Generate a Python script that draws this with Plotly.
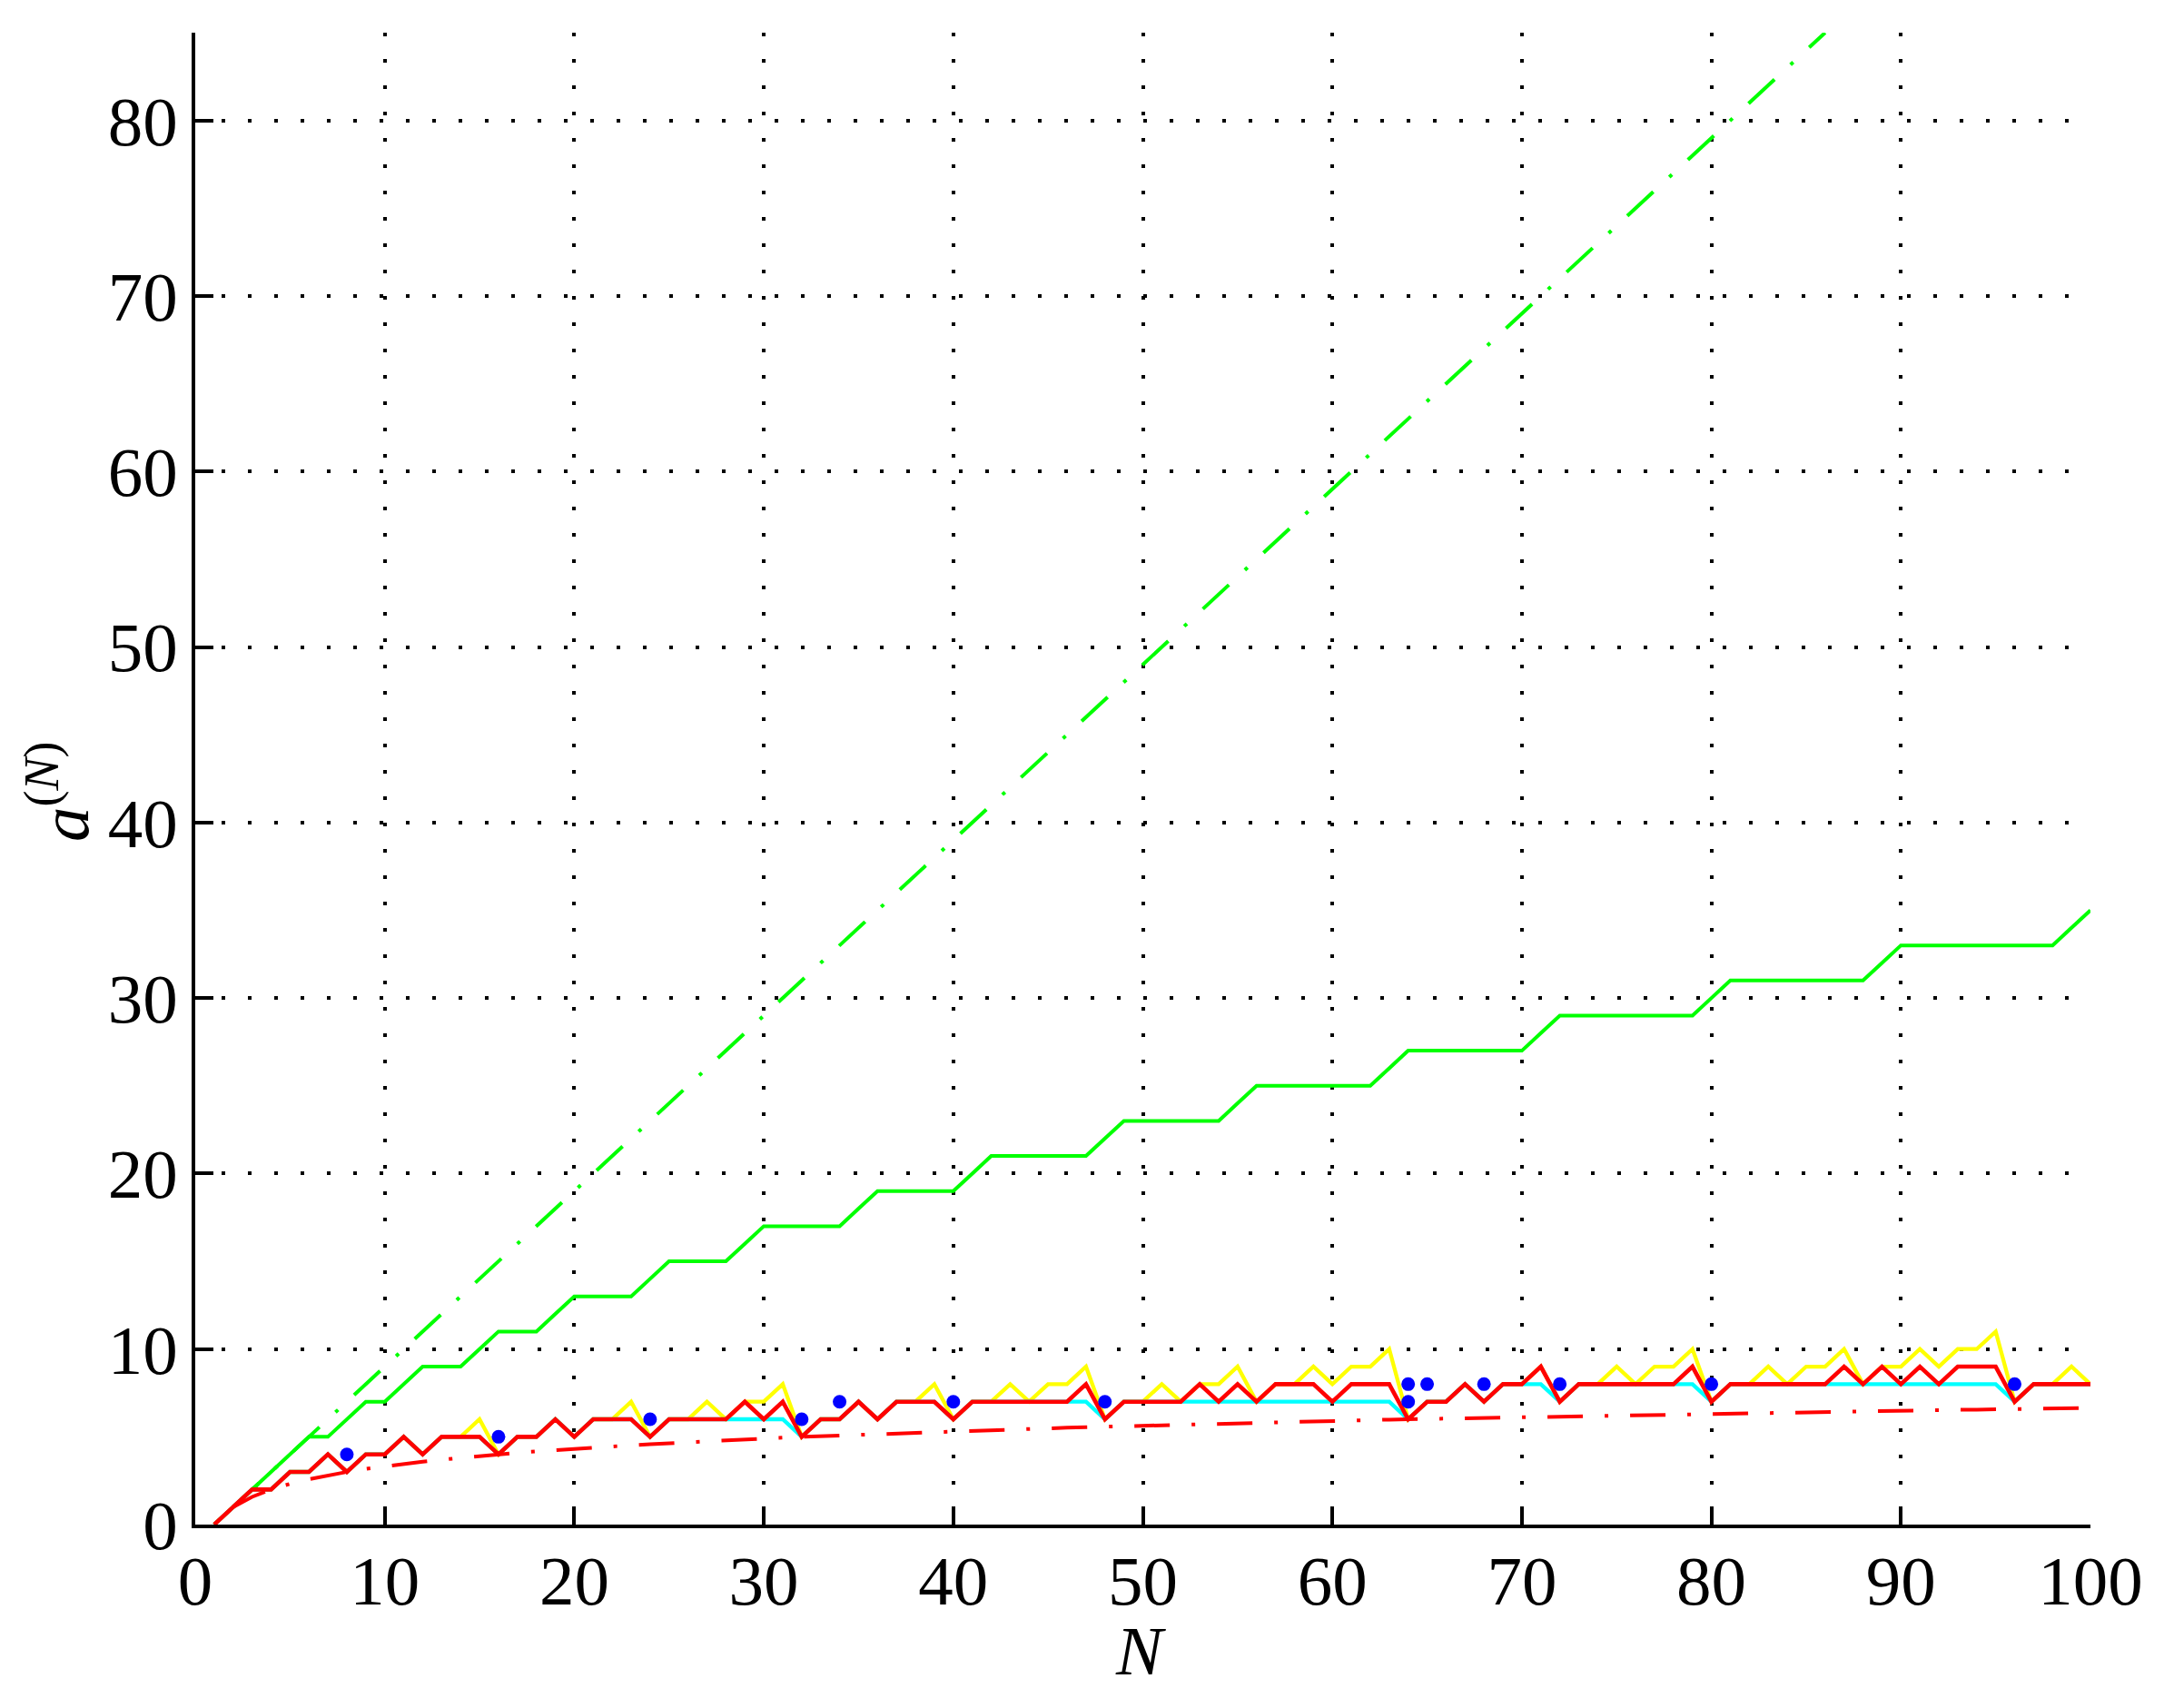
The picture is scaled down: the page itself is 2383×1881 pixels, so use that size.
import plotly.graph_objects as go

# ---------------- data ----------------
N = list(range(1, 101))

green_stair = [0, 1, 2, 3, 4, 5, 5, 6, 7, 7,
               8, 9, 9, 9, 10, 11, 11, 11, 12, 13,
               13, 13, 13, 14, 15, 15, 15, 15, 16, 17,
               17, 17, 17, 17, 18, 19, 19, 19, 19, 19,
               20, 21, 21, 21, 21, 21, 21, 22, 23, 23,
               23, 23, 23, 23, 24, 25, 25, 25, 25, 25,
               25, 25, 26, 27, 27, 27, 27, 27, 27, 27,
               28, 29, 29, 29, 29, 29, 29, 29, 29, 30,
               31, 31, 31, 31, 31, 31, 31, 31, 32, 33,
               33, 33, 33, 33, 33, 33, 33, 33, 34, 35]

green_dd_x = [1, 86]
green_dd_y = [0, 85]

yellow = [0, 1, 2, 2, 3, 3, 4, 3, 4, 4,
          5, 4, 5, 5, 6, 4, 5, 5, 6, 5,
          6, 6, 7, 5, 6, 6, 7, 6, 7, 7,
          8, 5, 6, 6, 7, 6, 7, 7, 8, 6,
          7, 7, 8, 7, 8, 8, 9, 6, 7, 7,
          8, 7, 8, 8, 9, 7, 8, 8, 9, 8,
          9, 9, 10, 6, 7, 7, 8, 7, 8, 8,
          9, 7, 8, 8, 9, 8, 9, 9, 10, 7,
          8, 8, 9, 8, 9, 9, 10, 8, 9, 9,
          10, 9, 10, 10, 11, 7, 8, 8, 9, 8]

cyan = [0, 1, 2, 2, 3, 3, 4, 3, 4, 4,
        5, 4, 5, 5, 5, 4, 5, 5, 6, 5,
        6, 6, 6, 5, 6, 6, 6, 6, 6, 6,
        6, 5, 6, 6, 7, 6, 7, 7, 7, 6,
        7, 7, 7, 7, 7, 7, 7, 6, 7, 7,
        7, 7, 7, 7, 7, 7, 7, 7, 7, 7,
        7, 7, 7, 6, 7, 7, 8, 7, 8, 8,
        8, 7, 8, 8, 8, 8, 8, 8, 8, 7,
        8, 8, 8, 8, 8, 8, 8, 8, 8, 8,
        8, 8, 8, 8, 8, 7, 8, 8, 8, 8]

red = [0, 1, 2, 2, 3, 3, 4, 3, 4, 4,
       5, 4, 5, 5, 5, 4, 5, 5, 6, 5,
       6, 6, 6, 5, 6, 6, 6, 6, 7, 6,
       7, 5, 6, 6, 7, 6, 7, 7, 7, 6,
       7, 7, 7, 7, 7, 7, 8, 6, 7, 7,
       7, 7, 8, 7, 8, 7, 8, 8, 8, 7,
       8, 8, 8, 6, 7, 7, 8, 7, 8, 8,
       9, 7, 8, 8, 8, 8, 8, 8, 9, 7,
       8, 8, 8, 8, 8, 8, 9, 8, 9, 8,
       9, 8, 9, 9, 9, 7, 8, 8, 8, 8]

red_dd_x = list(range(2, 101))
red_dd_y = [1, 1.58, 2, 2.32, 2.58, 2.81, 3, 3.17, 3.32,
            3.46, 3.58, 3.70, 3.81, 3.91, 4, 4.09, 4.17, 4.25, 4.32,
            4.39, 4.46, 4.52, 4.58, 4.64, 4.70, 4.75, 4.81, 4.86, 4.91,
            4.95, 5, 5.04, 5.09, 5.13, 5.17, 5.21, 5.25, 5.29, 5.32,
            5.36, 5.39, 5.43, 5.46, 5.49, 5.52, 5.55, 5.58, 5.61, 5.64,
            5.67, 5.70, 5.73, 5.75, 5.78, 5.81, 5.83, 5.86, 5.88, 5.91,
            5.93, 5.95, 5.98, 6, 6.02, 6.04, 6.07, 6.09, 6.11, 6.13,
            6.15, 6.17, 6.19, 6.21, 6.23, 6.25, 6.27, 6.29, 6.30, 6.32,
            6.34, 6.36, 6.37, 6.39, 6.41, 6.43, 6.44, 6.46, 6.48, 6.49,
            6.51, 6.52, 6.54, 6.55, 6.57, 6.58, 6.60, 6.61, 6.63, 6.64]

blue_x = [8, 16, 24, 32, 34, 40, 48, 64, 64, 65, 68, 72, 80, 96]
blue_y = [4, 5, 6, 6, 7, 7, 7, 8, 7, 8, 8, 8, 8, 8]

x_ticks = [0, 10, 20, 30, 40, 50, 60, 70, 80, 90, 100]
y_ticks = [0, 10, 20, 30, 40, 50, 60, 70, 80]

# ---------------- figure ----------------
FONT = "Liberation Serif"
DASHDOT = "39px,24px,4px,24px"

fig = go.Figure()
fig.add_trace(go.Scatter(x=green_dd_x, y=green_dd_y, mode="lines",
                         line=dict(color="#00ff00", width=4, dash="4px,24px,39px,24px")))
fig.add_trace(go.Scatter(x=N, y=green_stair, mode="lines",
                         line=dict(color="#00ff00", width=4)))
fig.add_trace(go.Scatter(x=N, y=yellow, mode="lines",
                         line=dict(color="#ffff00", width=4.3)))
fig.add_trace(go.Scatter(x=N, y=cyan, mode="lines",
                         line=dict(color="#00ffff", width=4.3)))
fig.add_trace(go.Scatter(x=red_dd_x, y=red_dd_y, mode="lines",
                         line=dict(color="#ff0000", width=4, dash=DASHDOT)))
fig.add_trace(go.Scatter(x=N, y=red, mode="lines",
                         line=dict(color="#ff0000", width=4.6)))
fig.add_trace(go.Scatter(x=blue_x, y=blue_y, mode="markers",
                         marker=dict(color="#0000ff", size=15, line=dict(width=0))))

axis_common = dict(
    showline=True, linecolor="black", linewidth=3.5, mirror=False,
    ticks="inside", ticklen=20, tickwidth=3.5, tickcolor="black",
    showgrid=True, gridcolor="black", gridwidth=3.6, griddash="3.6px,25.4px",
    zeroline=False,
    tickfont=dict(family=FONT, size=77, color="black"),
)

fig.update_layout(
    width=2375, height=1873,
    margin=dict(l=207, r=81, t=28, b=202),
    paper_bgcolor="white", plot_bgcolor="white",
    showlegend=False,
    xaxis=dict(range=[0, 100], tickvals=x_ticks, ticktext=[str(v) for v in x_ticks],
               ticklabelstandoff=-8, **axis_common),
    yaxis=dict(range=[0, 85], tickvals=y_ticks, ticktext=[str(v) for v in y_ticks],
               **axis_common),
    annotations=[
        dict(text="<i>N</i>", x=0.4987, y=-0.0845, xref="paper", yref="paper",
             xanchor="center", yanchor="middle", showarrow=False,
             font=dict(family=FONT, size=77, color="black")),
        dict(text="<i>a</i><sup>(<i>N</i>)</sup>", x=-0.072, y=0.491,
             xref="paper", yref="paper", textangle=-90,
             xanchor="center", yanchor="middle", showarrow=False,
             font=dict(family=FONT, size=77, color="black")),
    ],
)

fig.write_html("out.html")
